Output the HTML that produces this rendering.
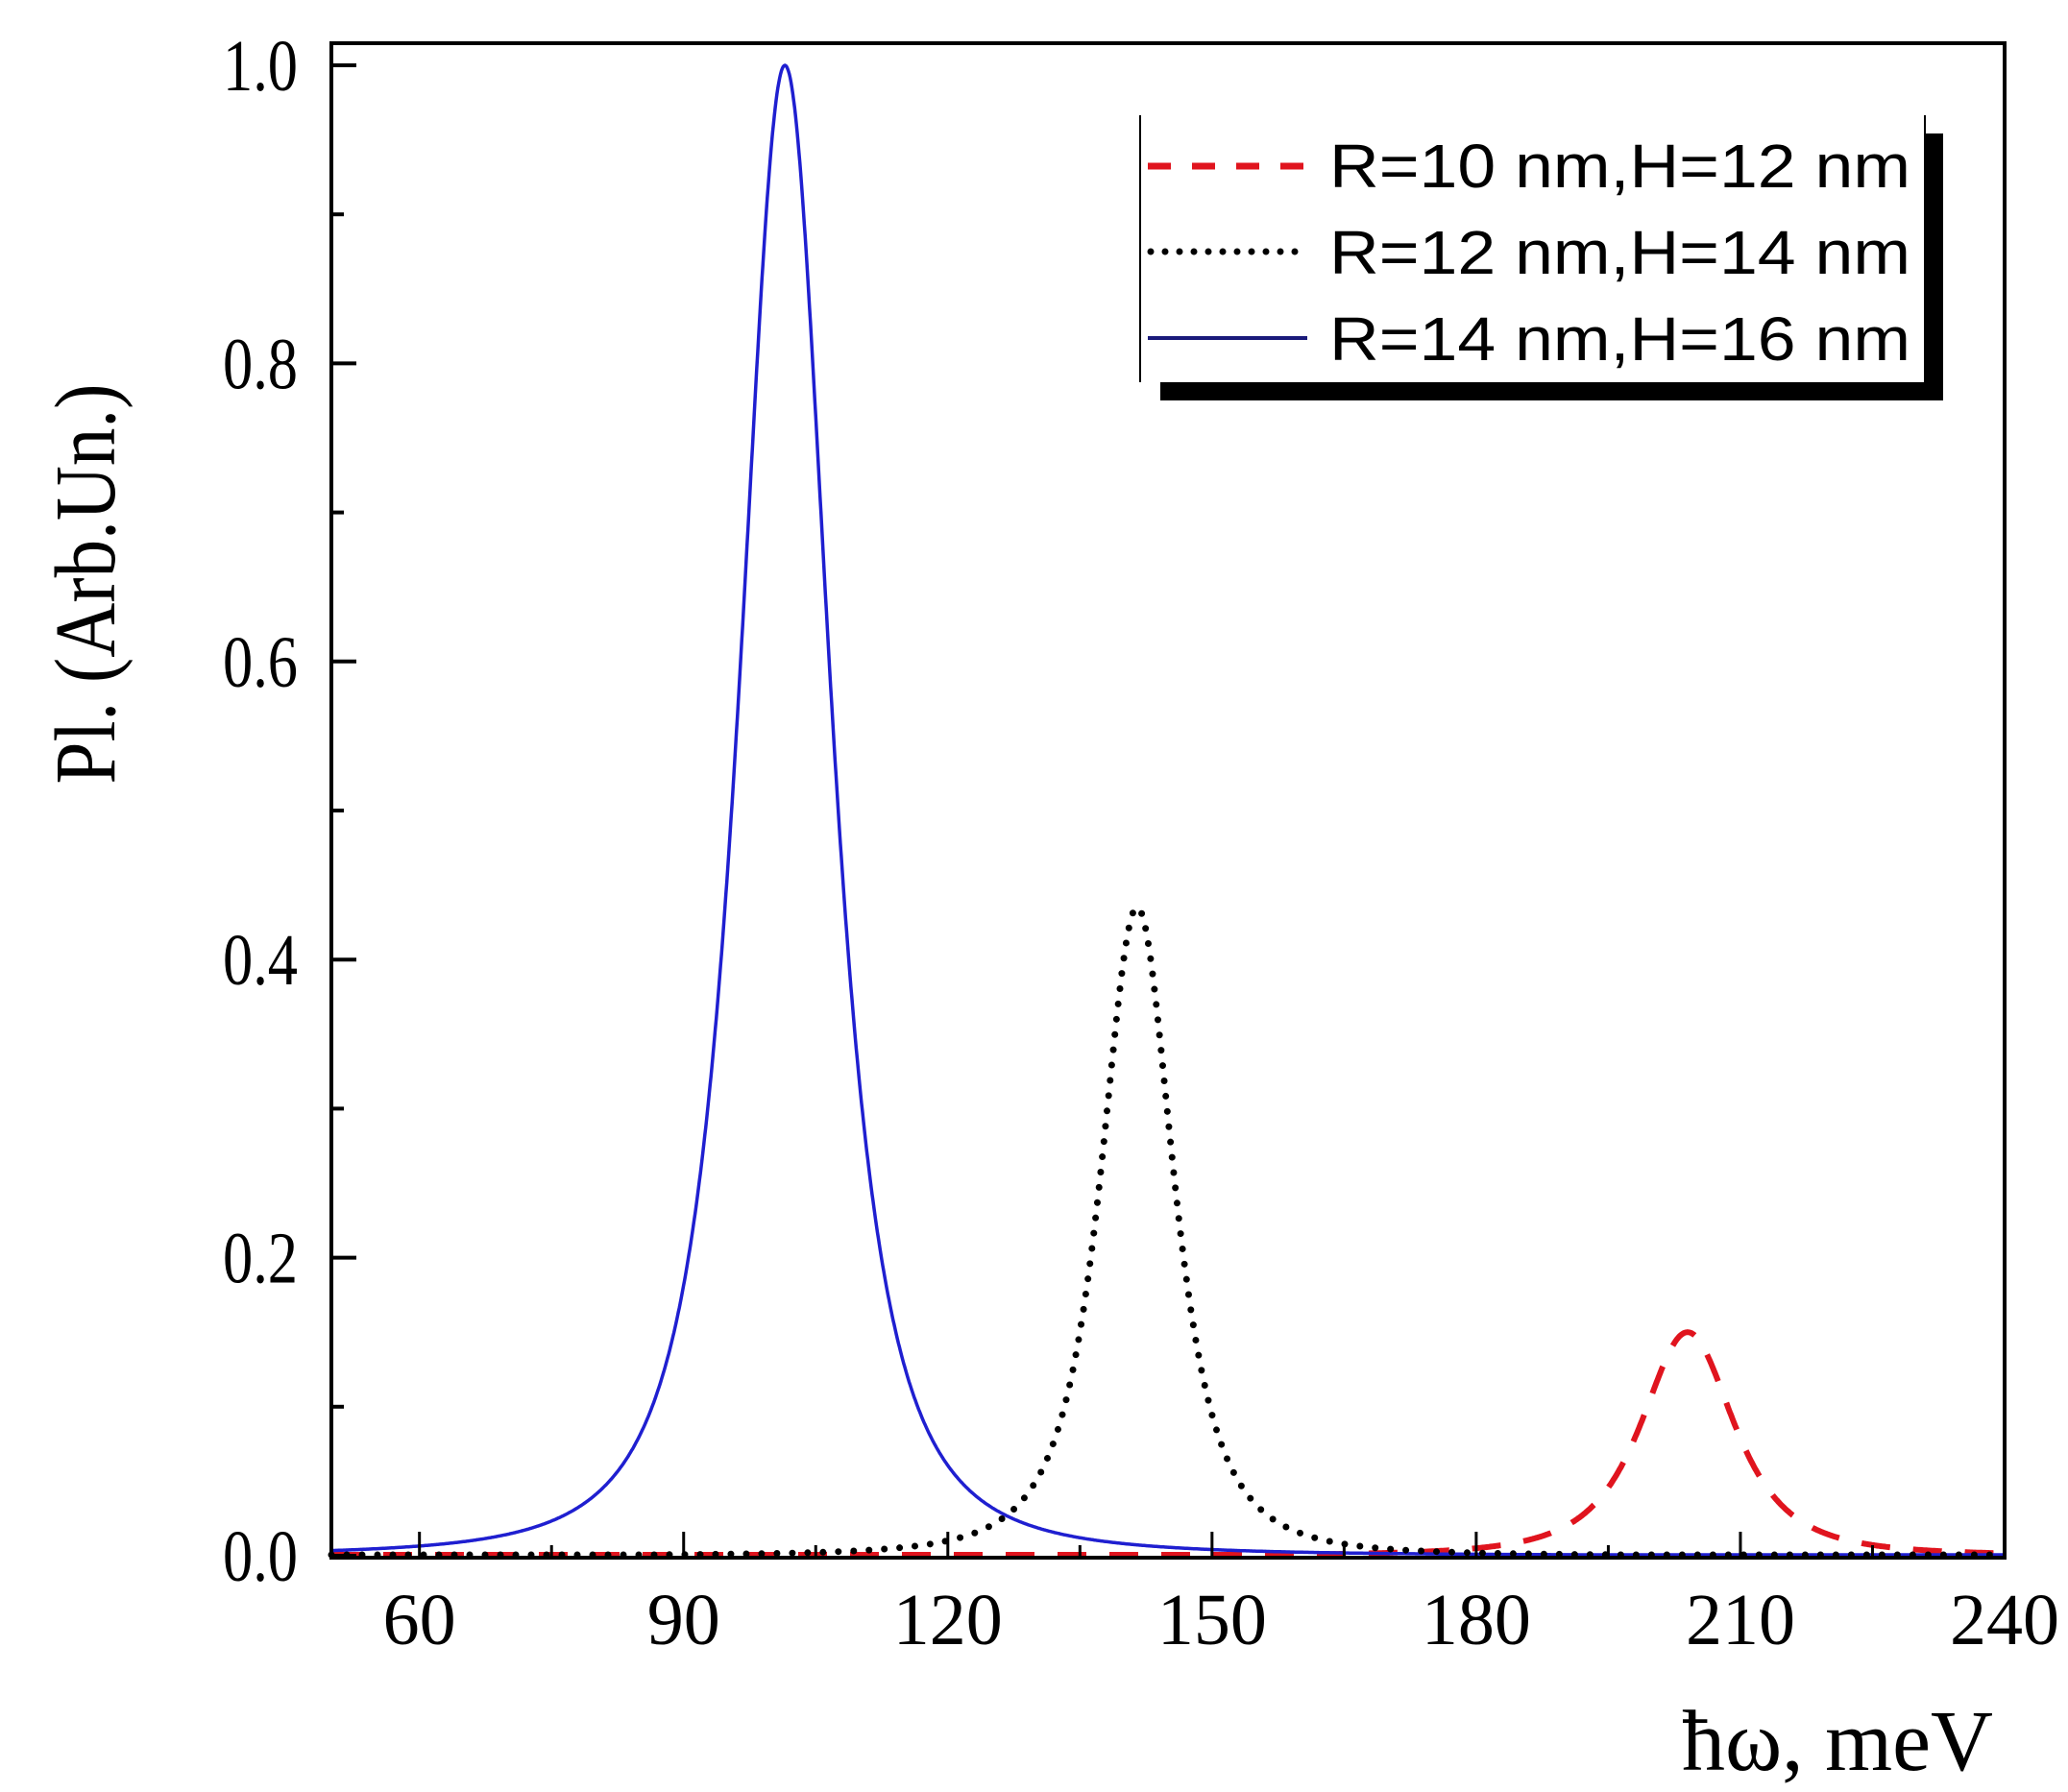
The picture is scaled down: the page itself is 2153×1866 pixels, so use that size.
<!DOCTYPE html>
<html><head><meta charset="utf-8"><style>html,body{margin:0;padding:0;background:#fff}svg{display:block}</style></head>
<body>
<svg id="s" xmlns="http://www.w3.org/2000/svg" width="2153" height="1866" viewBox="0 0 2153 1866">
<rect width="2153" height="1866" fill="#fff"/>
<g id="curves"></g>
<rect x="345" y="45" width="1742" height="1577" fill="none" stroke="#000" stroke-width="4"/>
<g id="ticks" stroke="#000"></g>
<g font-family="Liberation Serif, serif" font-size="76" fill="#000" id="labels"></g>
<text x="119" y="608" transform="rotate(-90 119 608)" text-anchor="middle" font-family="Liberation Serif, serif" font-size="90" textLength="417" lengthAdjust="spacingAndGlyphs">Pl. (Arb.Un.)</text>
<text x="1751" y="1843" font-family="Liberation Serif, serif" font-size="90" textLength="324" lengthAdjust="spacingAndGlyphs">ħω, meV</text>
<!-- legend -->
<rect x="1208" y="398" width="815" height="19" fill="#000"/>
<rect x="2004" y="139" width="19" height="278" fill="#000"/>
<rect x="1186" y="120" width="818" height="278" fill="#fff"/>
<line x1="1187" y1="120" x2="1187" y2="398" stroke="#000" stroke-width="2"/>
<line x1="2004" y1="120" x2="2004" y2="398" stroke="#000" stroke-width="2"/>
<line x1="1195" y1="173" x2="1361" y2="173" stroke="#e0141e" stroke-width="7" stroke-dasharray="24 22"/>
<line x1="1198" y1="262" x2="1361" y2="262" stroke="#000" stroke-width="7" stroke-linecap="round" stroke-dasharray="0 15"/>
<line x1="1195" y1="352" x2="1361" y2="352" stroke="#1a1a7a" stroke-width="4"/>
<g font-family="Liberation Sans, sans-serif" font-size="64" fill="#000">
<text x="1384" y="195" textLength="605" lengthAdjust="spacingAndGlyphs">R=10 nm,H=12 nm</text>
<text x="1384" y="285" textLength="605" lengthAdjust="spacingAndGlyphs">R=12 nm,H=14 nm</text>
<text x="1384" y="375" textLength="605" lengthAdjust="spacingAndGlyphs">R=14 nm,H=16 nm</text>
</g>
</svg>
<script>
var NS="http://www.w3.org/2000/svg";
function X(v){return 345+(v-50)*1742/190;}
function Y(v){return 1620-1552*v;}
function el(p,t,a){var e=document.createElementNS(NS,t);for(var k in a)e.setAttribute(k,a[k]);p.appendChild(e);return e;}
function path(x0,A,g){var d="";for(var v=50;v<=240.001;v+=0.1){var y=A*Math.pow(1+Math.pow((v-x0)/g,2),-1.5);d+=(d?"L":"M")+X(v).toFixed(1)+","+Math.min(Y(y),1619).toFixed(1);}return d;}
var c=document.getElementById("curves");
el(c,"path",{d:path(204,0.15,8.2),fill:"none",stroke:"#e0141e","stroke-width":6,"stroke-dasharray":"30 24"});
el(c,"path",{d:path(101.5,1.0,7.9),fill:"none",stroke:"#1f1fd0","stroke-width":3.5});
el(c,"path",{d:path(141.5,0.435,6.4),fill:"none",stroke:"#000","stroke-width":7,"stroke-linecap":"round","stroke-dasharray":"0 16"});
var t=document.getElementById("ticks"),l=document.getElementById("labels");
for(var i=0;i<=10;i++){var y=Y(i/10),len=i%2?13:26;el(t,"line",{x1:345,x2:345+len,y1:y,y2:y,"stroke-width":4});
 if(i%2==0){var tx=el(l,"text",{x:310,y:y+26,"text-anchor":"end",textLength:78,lengthAdjust:"spacingAndGlyphs"});tx.textContent=(i/10).toFixed(1);}}
for(var v=60;v<=240;v+=15){var x=X(v),len=(v%30==0)?27:13;el(t,"line",{x1:x,x2:x,y1:1622,y2:1622-len,"stroke-width":3});
 if(v%30==0){var tx=el(l,"text",{x:x,y:1712,"text-anchor":"middle"});tx.textContent=v;}}
</script>
</body></html>
